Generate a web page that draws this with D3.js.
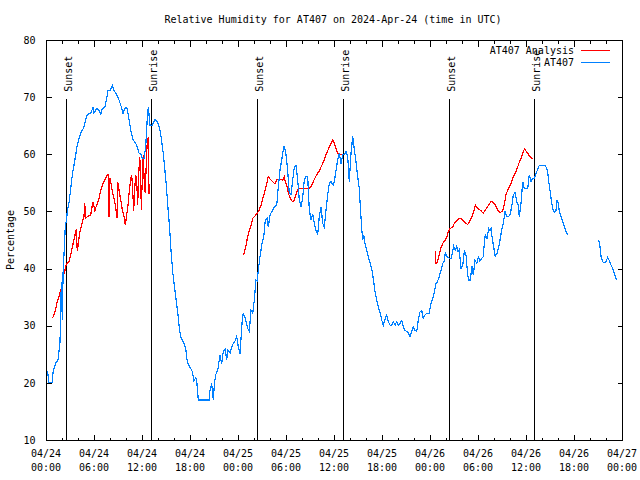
<!DOCTYPE html>
<html><head><meta charset="utf-8">
<script src="https://cdn.jsdelivr.net/npm/d3@7"></script>
<style>
body{margin:0;background:#fff}
svg{display:block}
text{font-family:"DejaVu Sans Mono","Liberation Mono",monospace;font-size:10px;fill:#000}
</style>
</head><body>
<svg id="chart" width="640" height="480"></svg>
<script>
// ---------- data ----------
const chartTitle = "Relative Humidity for AT407 on 2024-Apr-24 (time in UTC)";
const yAxisLabel = "Percentage";
const seriesNames = ["AT407 Analysis", "AT407"];
const seriesColors = ["#ff0000", "#0080ff"];
const startTime = Date.UTC(2024, 3, 24, 0, 0);
const endTime = Date.UTC(2024, 3, 27, 0, 0);
const yDomain = [10, 80];
const yTickValues = [10, 20, 30, 40, 50, 60, 70, 80];
const majorTickHours = 6;
const minorTickHours = 2;

const sunHours = [2.54, 13.17, 26.42, 37.17, 50.42, 61.05];
const sunLabels = ["Sunset", "Sunrise", "Sunset", "Sunrise", "Sunset", "Sunrise"];

// hours since 2024-04-24 00:00 UTC ; null = gap
const analysisHours = [0.79,1.0,1.21,1.41,1.63,1.75,1.91,2.04,2.16,2.34,2.5,2.66,2.88,3.09,3.29,3.5,3.63,3.79,3.91,4.04,4.21,4.41,4.59,4.75,4.84,4.96,5.16,5.59,5.79,5.91,6.09,6.21,6.41,6.63,6.84,7.04,7.25,7.46,7.66,7.79,7.88,8.0,8.16,8.38,8.59,8.75,8.88,8.96,9.13,9.34,9.54,9.75,9.91,10.09,10.25,10.41,10.59,10.71,10.84,10.96,11.09,11.21,11.34,11.46,11.59,11.71,11.84,11.91,12.04,12.16,12.29,12.41,12.54,12.66,12.79,12.88,13.0,
  null,
  24.66,24.79,25.0,25.21,25.41,25.63,25.84,26.04,26.25,26.46,26.66,26.88,27.09,27.29,27.5,27.79,28.04,28.34,28.63,28.84,29.13,29.59,29.79,29.91,30.09,30.29,30.54,30.75,30.96,31.16,31.38,31.59,32.91,33.13,33.34,33.54,33.75,33.96,34.16,34.38,34.59,34.79,35.0,35.21,35.41,35.63,35.84,36.04,36.25,36.46,36.66,37.09,
  null,
  48.66,48.68,48.88,49.09,49.29,49.5,49.71,49.91,50.13,50.29,50.5,50.84,51.04,51.25,51.46,51.66,51.88,52.09,52.29,52.5,52.71,52.91,53.13,53.34,53.54,53.66,53.84,54.09,54.38,54.66,54.88,55.13,55.34,55.54,55.75,55.96,56.16,56.38,56.59,56.79,57.0,57.16,57.34,57.5,57.71,57.91,58.13,58.34,58.54,58.75,58.96,59.16,59.38,59.59,59.79,60.0,60.21,60.41,60.63,60.84];
const analysisValues = [31.3,31.9,33,34.2,35.1,35.9,36.5,37,38.6,39.5,40.6,40.9,41.2,42.4,43.8,45,45.9,46.9,43,44.4,46.2,47.3,48.5,49.1,51.4,48.8,49.1,49.4,51.1,51.7,50,50.6,51.4,52.3,53.7,54.6,55.2,55.8,56.4,56.4,49.1,55.8,54.6,52.9,51.7,50.3,48.8,55.2,53.7,52,50.3,49.1,47.6,49.4,51.1,53.5,55.8,56.4,53.7,50,54,56.4,55.2,51.1,56.4,59.6,56.9,50.3,55.8,59.9,54.6,53.2,58.7,62.2,63.1,53.2,53.2,
  null,
  42.4,42.7,44.1,45.6,46.7,47.6,48.8,49.1,49.4,49.8,50.3,51.1,52.3,53.2,54.3,56.1,55.6,55.2,54.8,55.6,55.6,55.5,56.1,55.2,54.6,53.2,52.3,51.8,51.8,52.6,53.5,54,54,54.4,55,55.6,56.2,56.7,57.1,57.8,58.4,59.1,59.9,60.6,61.3,61.9,62.5,61.9,61,60.2,59.9,59.9,
  null,
  43,40.9,41,42.1,43.3,44.1,44.7,45,45.6,46.5,47,47.3,47.9,48.2,48.5,48.8,48.8,48.5,48.2,47.9,47.7,48.2,48.8,49.4,50.3,51.1,50.8,50.4,50.1,49.7,50.2,50.7,51.1,51.6,51.8,51.5,51.1,50.5,50,49.8,50,50.5,51.7,52.9,53.7,54.3,54.9,55.8,56.4,57,57.8,58.6,59.3,60.2,60.9,60.6,60.2,59.7,59.4,59.3];

const obsHours = [0.16,0.25,0.38,0.75,0.91,1.25,1.5,1.75,1.84,1.91,2.04,2.16,2.25,2.41,2.59,2.66,2.88,3.09,3.29,3.5,3.71,3.91,4.13,4.34,4.54,4.75,4.96,5.16,5.59,5.88,6.0,6.34,6.63,6.84,7.04,7.34,7.59,7.75,8.0,8.29,8.5,8.84,9.13,9.41,9.63,9.84,10.09,10.25,10.5,10.66,10.91,11.21,11.41,11.63,11.84,12.04,12.25,12.46,12.66,12.79,13.0,13.29,13.63,13.91,14.21,14.41,14.63,14.84,15.04,15.25,15.46,15.66,15.88,16.09,16.29,16.5,16.71,16.91,17.16,17.46,17.66,17.96,18.29,18.5,18.71,18.84,19.04,20.38,20.5,20.71,20.91,21.04,21.21,21.5,21.75,21.96,22.16,22.38,22.59,22.75,23.0,23.29,23.59,23.84,24.04,24.25,24.5,24.66,24.91,25.21,25.41,25.63,25.84,26.04,26.25,26.38,26.59,26.75,27.0,27.25,27.41,27.63,27.79,28.0,28.25,28.54,28.84,29.04,29.25,29.46,29.66,29.79,30.0,30.21,30.41,30.63,30.84,31.04,31.25,31.46,31.66,31.88,32.09,32.29,32.5,32.71,32.91,33.13,33.34,33.54,33.75,33.96,34.16,34.38,34.59,34.79,35.0,35.21,35.41,35.63,35.91,36.04,36.25,36.46,36.66,36.88,37.09,37.29,37.5,37.71,37.91,38.13,38.34,38.54,38.75,38.96,39.16,39.29,39.46,39.59,39.71,39.91,40.13,40.34,40.54,40.75,40.96,41.16,41.38,41.59,41.79,41.96,42.16,42.41,42.59,42.79,43.0,43.21,43.41,43.63,43.84,44.04,44.25,44.46,44.66,44.88,45.09,45.29,45.5,45.71,45.91,46.13,46.34,46.54,46.75,46.96,47.16,47.38,47.59,47.88,48.13,48.34,48.54,48.75,48.88,49.16,49.38,49.59,49.75,49.91,50.13,50.41,50.63,50.75,50.96,51.16,51.34,51.5,51.66,51.88,52.09,52.29,52.5,52.71,52.84,53.04,53.25,53.41,53.63,53.84,54.04,54.25,54.46,54.66,54.79,54.91,55.13,55.34,55.5,55.63,55.75,55.96,56.16,56.38,56.59,56.75,56.96,57.16,57.38,57.59,57.79,58.0,58.21,58.41,58.63,58.84,59.04,59.16,59.38,59.59,59.79,60.0,60.21,60.41,60.63,60.84,61.04,61.25,61.46,61.66,62.0,62.29,62.5,62.71,62.84,63.0,63.16,63.34,63.54,63.75,63.88,64.04,64.16,64.38,64.59,64.79,65.0,65.21,
  null,
  69.09,69.25,69.38,69.59,69.79,70.0,70.21,70.41,70.63,70.84,71.04,71.25,71.34];
const obsValues = [22.1,21.4,20,20,22.2,23.5,24,27.2,31.9,37.7,31,41.2,42.4,47.3,48.8,50.2,51.5,54,56.4,58.1,59.9,61.6,62.8,63.7,64.2,64.8,66,67,67.2,68.2,67.2,68,67.6,67,68,68.2,69.8,71.2,71.2,72,71.2,70.4,69.5,68.3,67.2,68,68.2,67.2,65.1,63.7,62.5,61.9,61.3,60.2,60.2,59.2,59.2,61.3,66.3,68.3,65.1,65.1,66.1,65.7,64.5,62.8,60.5,57.5,54.6,50.5,47,42.4,38.9,36.5,34.2,31.9,29,27.8,27.2,26,23.7,22.8,22,20.3,20.9,20.3,17,17,18.7,19.9,17,19.7,21.4,22.5,24.9,23.3,25.5,25.9,24.1,25.7,25.2,26.6,27.2,28.1,26.3,25,30.4,32.2,31.3,29.5,29,32.7,32.2,34.5,38,37.8,40.3,42.1,44.4,45.9,48.5,48.8,47.3,49.4,50,50.8,51.1,54.3,57.2,59,60.8,61.5,59.9,57.2,53.2,53,55.5,57.8,58,55.5,52,50.8,52.5,55.5,56.1,56.1,50.3,48.5,49.6,47.9,46.7,45.9,49.1,50.8,47.9,47.3,50.3,52.9,54.9,55.2,54.6,55.2,57.2,59,60.2,58.4,59.9,59.9,60.5,59.7,55.2,60.2,63.1,60.8,58.7,56.1,54,50.8,47,45,45.9,44.1,43,41.8,40.9,39.7,37.7,35.7,34.2,33,32.2,31,30.1,31.3,31.9,30.7,30.1,30.1,30.7,30.1,30.7,30.1,30.4,30.9,29.8,29.2,29,28.7,28.1,29,29.8,29.2,29,31,32.4,32.7,31.3,31.9,32.2,32.2,33.9,34.8,35.9,37.4,37.5,38.6,39.7,40.9,41.2,42.7,42.1,41.8,41.8,42.4,43.9,43.2,43.9,43,43.3,40,40.6,43,42.4,38.9,38,38,40.4,38.9,41.5,40.9,42,41.3,41.8,42.1,44.4,45.9,45.3,47,46.7,47,45.6,43.8,42.1,42.7,43.8,45,46.7,47.9,50,49.1,49.1,49.4,50.8,52.9,53.3,51.7,51.1,49.1,51.4,55.2,54,54,54,56.4,55.2,55.8,55.8,56.7,57.3,58.1,58.1,58.1,57.8,57,55.2,53.7,52,50.5,49.9,50.2,52,51.4,50,49.1,48.2,47.3,46.5,45.9,
  null,
  45,43.8,42.1,41.2,41,41.2,42,41.4,40.6,40,39.2,38.3,38];

// ---------- layout ----------
const plot = {left: 46, right: 622, top: 40, bottom: 440};
const svg = d3.select("#chart");

const HOUR = 3600 * 1000;
const toDate = h => new Date(startTime + h * HOUR);

const x = d3.scaleUtc().domain([new Date(startTime), new Date(endTime)]).range([plot.left, plot.right]);
const y = d3.scaleLinear().domain(yDomain).range([plot.bottom, plot.top]);

const mkSeries = (hs, vs) => hs.map((h, i) => ({h, v: vs[i]}));
const analysis = mkSeries(analysisHours, analysisValues);
const obs = mkSeries(obsHours, obsValues);

// title
svg.append("text").attr("x", 333).attr("y", 23)
  .attr("text-anchor", "middle").text(chartTitle);

// y-axis label
svg.append("text").attr("transform", `translate(14,${(plot.top + plot.bottom) / 2}) rotate(-90)`)
  .attr("text-anchor", "middle").text(yAxisLabel);

const gAxes = svg.append("g").attr("shape-rendering", "crispEdges");

// left y axis
const yAxisL = d3.axisLeft(y).tickValues(yTickValues).tickSize(-5).tickPadding(11).tickFormat(d3.format("d"));
gAxes.append("g").attr("transform", `translate(${plot.left + 0.5},0)`).call(yAxisL)
  .call(g => g.select(".domain").remove());
// right y axis (ticks only)
const yAxisR = d3.axisRight(y).tickValues(yTickValues).tickSize(-5).tickFormat("");
gAxes.append("g").attr("transform", `translate(${plot.right + 0.5},0)`).call(yAxisR)
  .call(g => g.select(".domain").remove());

// x ticks
const majorTicks = d3.range(0, 72 + 0.001, majorTickHours).map(toDate);
const minorTicks = d3.range(0, 72 + 0.001, minorTickHours).filter(h => h % majorTickHours !== 0).map(toDate);
const fmtDate = d3.utcFormat("%m/%d"), fmtTime = d3.utcFormat("%H:%M");

const addX = (axisFn, ticks, size, yPos) => {
  gAxes.append("g").attr("transform", `translate(0,${yPos})`)
    .call(axisFn(x).tickValues(ticks).tickSize(size).tickFormat(""))
    .call(g => g.select(".domain").remove());
};
addX(d3.axisBottom, majorTicks, -6, plot.bottom + 0.5);
addX(d3.axisBottom, minorTicks, -3, plot.bottom + 0.5);
addX(d3.axisTop, majorTicks, -6, plot.top + 0.5);
addX(d3.axisTop, minorTicks, -3, plot.top + 0.5);

gAxes.selectAll(".tick line").attr("stroke", "#000");
gAxes.selectAll(".tick text").attr("fill", "#000")
  .style("font-family", '"DejaVu Sans Mono","Liberation Mono",monospace').style("font-size", "10px");

// x tick labels, two lines
const xl = svg.append("g");
majorTicks.forEach(d => {
  const t = xl.append("text").attr("text-anchor", "middle");
  t.append("tspan").attr("x", x(d)).attr("y", plot.bottom + 17).text(fmtDate(d));
  t.append("tspan").attr("x", x(d)).attr("y", plot.bottom + 31).text(fmtTime(d));
});

// sunrise / sunset lines
const sunTop = 69.7;
const gSun = svg.append("g");
sunHours.forEach((h, i) => {
  const xp = Math.round(x(toDate(h))) + 0.5;
  gSun.append("line").attr("x1", xp).attr("x2", xp).attr("y1", y(sunTop)).attr("y2", y(yDomain[0]))
    .attr("stroke", "#000").attr("stroke-width", 1).attr("shape-rendering", "crispEdges");
  gSun.append("text").attr("transform", `translate(${xp + 5},${y(sunTop) - 7}) rotate(-90)`)
    .attr("text-anchor", "start").text(sunLabels[i]);
});

// data lines
const line = d3.line().defined(d => d.h !== null && d.v !== null)
  .x(d => x(toDate(d.h))).y(d => y(d.v));
const gData = svg.append("g");
gData.append("path").datum(analysis).attr("d", line).attr("fill", "none")
  .attr("stroke", seriesColors[0]).attr("stroke-width", 1.2).attr("shape-rendering", "crispEdges");
gData.append("path").datum(obs).attr("d", line).attr("fill", "none")
  .attr("stroke", seriesColors[1]).attr("stroke-width", 1.2).attr("shape-rendering", "crispEdges");

// legend
const legend = svg.append("g");
seriesNames.forEach((name, i) => {
  const ly = 50 + i * 12;
  legend.append("text").attr("x", 574).attr("y", ly + 4).attr("text-anchor", "end").text(name);
  legend.append("line").attr("x1", 581).attr("x2", 610).attr("y1", ly + 0.5).attr("y2", ly + 0.5)
    .attr("stroke", seriesColors[i]).attr("stroke-width", 1).attr("shape-rendering", "crispEdges");
});

// border
svg.append("rect").attr("x", plot.left + 0.5).attr("y", plot.top + 0.5)
  .attr("width", plot.right - plot.left).attr("height", plot.bottom - plot.top)
  .attr("fill", "none").attr("stroke", "#000").attr("shape-rendering", "crispEdges");
</script>
</body></html>
